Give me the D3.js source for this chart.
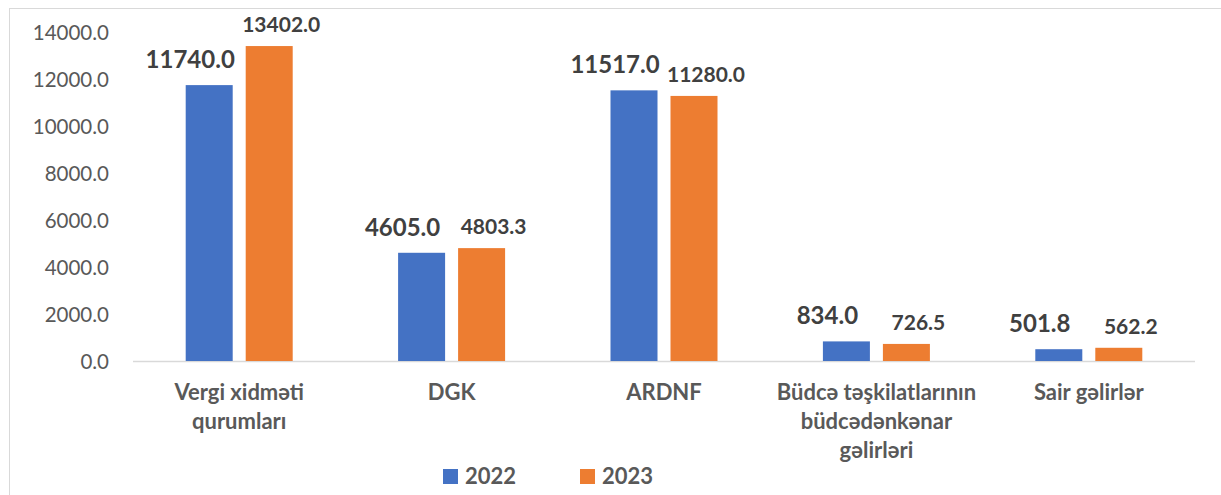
<!DOCTYPE html>
<html>
<head>
<meta charset="utf-8">
<script src="https://cdn.jsdelivr.net/npm/d3@7"></script>
<style>
  html, body { margin: 0; padding: 0; background: #fff; }
  svg { display: block; font-family: Lato, "Open Sans", sans-serif; }
</style>
</head>
<body>
<svg id="chart" width="1221" height="495"></svg>
<script>
// categories and series
const categories = [
  ['Vergi xidməti', 'qurumları'],
  ['DGK'],
  ['ARDNF'],
  ['Büdcə təşkilatlarının', 'büdcədənkənar', 'gəlirləri'],
  ['Sair gəlirlər']
];
const seriesNames = ['2022', '2023'];
const values2022 = [11740.0, 4605.0, 11517.0, 834.0, 501.8];
const values2023 = [13402.0, 4803.3, 11280.0, 726.5, 562.2];
const yTicks = [0, 2000, 4000, 6000, 8000, 10000, 12000, 14000];

const colors = ['#4472C4', '#ED7D31'];
const svg = d3.select('#chart');

const plot = {left: 133, right: 1195, top: 32, bottom: 361};

// outer frame (only top and left edges are visible in the picture)
svg.append('rect')
  .attr('x', 9.5).attr('y', 8.5)
  .attr('width', 1240).attr('height', 520)
  .attr('fill', 'none').attr('stroke', '#d9d9d9').attr('stroke-width', 1);

let y = d3.scaleLinear().domain([0, 14000]).range([plot.bottom, plot.top]);

let x0 = d3.scaleBand()
  .domain(d3.range(categories.length))
  .range([plot.left, plot.right])
  .padding(0);

// two bars per group, 47px wide with a 13px gap
let x1 = d3.scaleBand()
  .domain(seriesNames)
  .range([-53.5, 53.5])
  .paddingInner(13 / 60)
  .paddingOuter(0);

/// y axis labels
let yAxis = d3.axisLeft(y).tickValues(yTicks).tickSize(0).tickPadding(0)
  .tickFormat(d3.format('.1f'));
let gy = svg.append('g').attr('transform', 'translate(109,0)').call(yAxis);
gy.select('.domain').remove();
gy.selectAll('text')
  .attr('font-family', 'Lato, sans-serif')
  .attr('font-size', 20.5)
  .attr('fill', '#595959')
  .attr('dy', '0.36em');

/// baseline
svg.append('line')
  .attr('x1', plot.left).attr('x2', plot.right)
  .attr('y1', y(0) + 0.5).attr('y2', y(0) + 0.5)
  .attr('stroke', '#d9d9d9').attr('stroke-width', 1.5);

const series = [values2022, values2023];

// label nudges per series, mimicking the hand-placed labels
const labelStyle = [
  {dx: -19, dy: 17, size: 24},
  {dx: 12, dy: 14, size: 21}
];

series.forEach(function(vals, s) {
  let g = svg.append('g');
  g.selectAll('rect')
    .data(vals)
    .enter().append('rect')
    .attr('x', function(d, i) { return x0(i) + x0.bandwidth() / 2 + x1(seriesNames[s]); })
    .attr('width', x1.bandwidth())
    .attr('y', function(d) { return y(d); })
    .attr('height', function(d) { return y(0) - y(d); })
    .attr('fill', colors[s]);

  g.selectAll('text')
    .data(vals)
    .enter().append('text')
    .attr('x', function(d, i) {
      return x0(i) + x0.bandwidth() / 2 + x1(seriesNames[s]) + x1.bandwidth() / 2 + labelStyle[s].dx;
    })
    .attr('y', function(d) { return y(d) - labelStyle[s].dy; })
    .attr('text-anchor', 'middle')
    .attr('font-weight', 700)
    .attr('font-size', labelStyle[s].size)
    .attr('fill', '#404040')
    .text(function(d) { return d.toFixed(1); });
});

/// category labels
let cat = svg.append('g').selectAll('text')
  .data(categories)
  .enter().append('text')
  .attr('text-anchor', 'middle')
  .attr('font-weight', 700)
  .attr('font-size', 22)
  .attr('fill', '#595959')
  .attr('transform', function(d, i) { return 'translate(' + (x0(i) + x0.bandwidth() / 2) + ',400)'; });

cat.selectAll('tspan')
  .data(function(d) { return d; })
  .enter().append('tspan')
  .attr('x', 0)
  .attr('y', function(d, i) { return i * 29; })
  .text(function(d) { return d; });

/// legend
let legend = svg.append('g').selectAll('g')
  .data(seriesNames)
  .enter().append('g')
  .attr('transform', function(d, i) { return 'translate(' + (443 + i * 137) + ',469)'; });

legend.append('rect')
  .attr('width', 15).attr('height', 15)
  .attr('fill', function(d, i) { return colors[i]; });

legend.append('text')
  .attr('x', 22).attr('y', 15)
  .attr('font-weight', 700)
  .attr('font-size', 22)
  .attr('fill', '#595959')
  .text(function(d) { return d; });
</script>
</body>
</html>
